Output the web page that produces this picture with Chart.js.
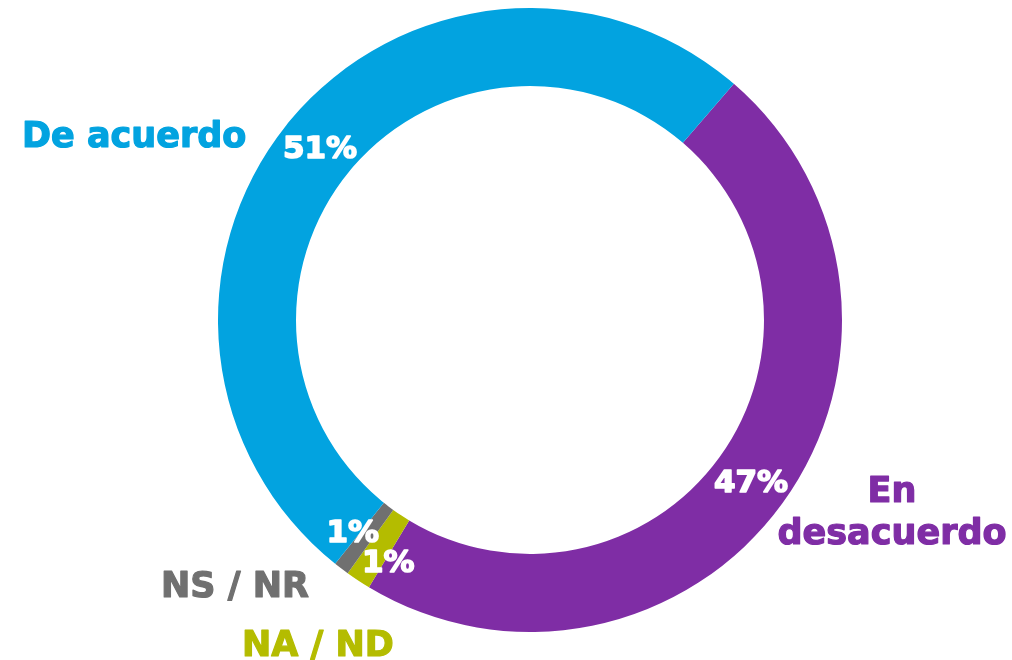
<!DOCTYPE html>
<html>
<head>
<meta charset="utf-8">
<script src="https://cdn.jsdelivr.net/npm/chart.js@4"></script>
<style>
  body { margin: 0; background: #fff; }
  #wrap { width: 1012px; height: 660px; position: relative; }
</style>
</head>
<body>
<div id="wrap"><canvas id="donut"></canvas></div>
<script>
// answers, clockwise from the top-right boundary
const categories = ["En desacuerdo", "NA / ND", "NS / NR", "De acuerdo"];
const shares = [47.3, 1.3, 0.8, 50.6];
const colors = ["#7f2da5", "#b4bc00", "#707070", "#02a3e0"];

// small angle / radius nudges (degrees, px) so the two 1% labels don't overlap
const pctNudgeDeg = [0, -2.9, 2.9, 0];
const pctNudgeR = [0, 6, 2, 0];

// category labels outside the ring
const outsideLabels = [
  { lines: ["En", "desacuerdo"], x: 892, y: 502, align: "center" },
  { lines: ["NA / ND"], x: 242, y: 656, align: "left" },
  { lines: ["NS / NR"], x: 161, y: 597, align: "left" },
  { lines: ["De acuerdo"], x: 22, y: 147, align: "left" }
];

const FONT = '"DejaVu Sans", sans-serif';

// fill + thin stroke of same colour, to get closer to the heavy weight of the original
function heavyText(ctx, txt, x, y, w) {
  ctx.lineWidth = w;
  ctx.lineJoin = 'round';
  ctx.strokeStyle = ctx.fillStyle;
  ctx.strokeText(txt, x, y);
  ctx.fillText(txt, x, y);
}

const labelPlugin = {
  id: 'labelPlugin',
  afterDatasetsDraw(chart) {
    const ctx = chart.ctx;
    const meta = chart.getDatasetMeta(0);
    ctx.save();

    // percentages inside the ring
    ctx.font = 'bold 31px ' + FONT;
    ctx.fillStyle = '#ffffff';
    ctx.textAlign = 'center';
    ctx.textBaseline = 'alphabetic';
    meta.data.forEach((arc, i) => {
      const p = arc.getProps(['x', 'y', 'startAngle', 'endAngle', 'innerRadius', 'outerRadius'], true);
      const mid = (p.startAngle + p.endAngle) / 2 + pctNudgeDeg[i] * Math.PI / 180;
      const r = (p.innerRadius + p.outerRadius) / 2 + pctNudgeR[i];
      const x = p.x + Math.cos(mid) * r;
      const y = p.y + Math.sin(mid) * r;
      heavyText(ctx, Math.round(shares[i]) + '%', x, y + 12, 1.6);
    });

    // category names
    ctx.font = 'bold 35px ' + FONT;
    outsideLabels.forEach((lab, i) => {
      ctx.fillStyle = colors[i];
      ctx.textAlign = lab.align;
      lab.lines.forEach((line, k) => {
        heavyText(ctx, line, lab.x, lab.y + k * 42, 1.2);
      });
    });
    ctx.restore();
  }
};

new Chart(document.getElementById('donut'), {
  type: 'doughnut',
  data: {
    labels: categories,
    datasets: [{
      data: shares,
      backgroundColor: colors,
      borderWidth: 0,
      hoverOffset: 0
    }]
  },
  options: {
    responsive: true,
    maintainAspectRatio: false,
    animation: false,
    events: [],
    rotation: 40.8,
    cutout: '75%',
    layout: { padding: { left: 218, right: 170, top: 8, bottom: 28 } },
    plugins: {
      legend: { display: false },
      tooltip: { enabled: false }
    }
  },
  plugins: [labelPlugin]
});
</script>
</body>
</html>
